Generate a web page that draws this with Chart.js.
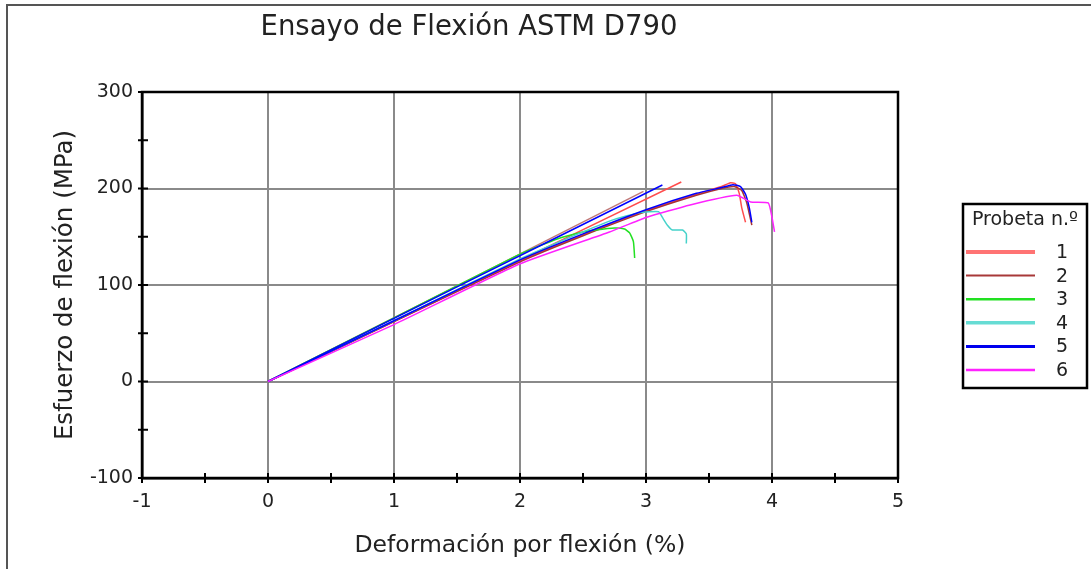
<!DOCTYPE html>
<html>
<head>
<meta charset="utf-8">
<script src="https://cdn.jsdelivr.net/npm/chart.js@4/dist/chart.umd.min.js"></script>
<style>
  html, body { margin: 0; padding: 0; background: #fff; }
  #wrap { position: relative; width: 1091px; height: 569px; }
</style>
</head>
<body>
<div id="wrap"><canvas id="flexChart" width="1091" height="569"></canvas></div>
<script>
// Tick values of both axes
const xTicks = [-1, 0, 1, 2, 3, 4, 5];
const yTicks = [-100, 0, 100, 200, 300];

// Specimen names for the legend
const probetas = ['1', '2', '3', '4', '5', '6'];

// Strain (%) / stress (MPa) of each specimen
const def1 = [0, 1, 2, 2.5, 3, 3.4, 3.6, 3.67, 3.71, 3.74, 3.76, 3.79];
const esf1 = [0, 62, 125, 152, 177, 194, 202, 206, 205, 195, 180, 165];
const def1b = [0, 1.5, 3.28];
const esf1b = [0, 94, 206.7];

const def2 = [0, 1, 2, 2.5, 3, 3.4, 3.6, 3.7, 3.76, 3.8, 3.84];
const esf2 = [0, 62, 124, 151, 176, 193, 200, 202, 198, 185, 162];
const def2b = [0, 1.5, 2.98];
const esf2b = [0, 99, 197];

const def3 = [0, 1, 2, 2.3, 2.5, 2.6, 2.75, 2.83, 2.87, 2.9, 2.91];
const esf3 = [0, 66, 132, 148, 155, 157, 159, 158, 154, 145, 128];

const def4 = [0, 1, 2, 2.5, 2.75, 2.95, 3.1, 3.13, 3.17, 3.21, 3.29, 3.32, 3.32];
const esf4 = [0, 63, 127, 155, 168, 175, 176, 170, 162, 157, 157, 153, 143];

const def5 = [0, 1, 2, 2.5, 3, 3.4, 3.6, 3.69, 3.75, 3.79, 3.82, 3.84];
const esf5 = [0, 63, 126, 153, 178, 195, 201, 204, 202, 194, 180, 165];
const def5b = [0, 1.5, 3.13];
const esf5b = [0, 98, 203.6];

const def6 = [0, 1, 2, 2.71, 3, 3.35, 3.72, 3.83, 3.97, 4.0, 4.02];
const esf6 = [0, 59, 122, 155, 170, 183, 193, 186, 185, 170, 155];

const lineColors = ['#ff4c4c', '#a83232', '#22e022', '#45d2ca', '#0000ff', '#ff22ff'];
const legendColors = ['#ff7373', '#a83838', '#22e022', '#66dcd4', '#0000ee', '#ff22ff'];
const legendWidths = [4, 2, 2.5, 3.5, 3, 2.5];

function pts(xs, ys) {
  return xs.map((x, i) => ({ x: x, y: ys[i] }));
}

function serie(xs, ys, color) {
  return {
    data: pts(xs, ys),
    borderColor: color,
    borderWidth: 1.5,
    pointRadius: 0,
    tension: 0.15,
    fill: false
  };
}

const datasets = [
  serie(def6, esf6, lineColors[5]),
  serie(def5, esf5, lineColors[4]),
  serie(def5b, esf5b, lineColors[4]),
  serie(def4, esf4, lineColors[3]),
  serie(def3, esf3, lineColors[2]),
  serie(def2, esf2, lineColors[1]),
  serie(def2b, esf2b, '#c07878'),
  serie(def1, esf1, lineColors[0]),
  serie(def1b, esf1b, lineColors[0])
];

const FONT = 'DejaVu Sans';

// Page frame, title, minor/major tick marks and the boxed legend
const decorations = {
  id: 'decorations',
  beforeDraw(chart) {
    const ctx = chart.ctx;
    ctx.save();
    ctx.fillStyle = '#fff';
    ctx.fillRect(0, 0, chart.width, chart.height);
    ctx.strokeStyle = '#555';
    ctx.lineWidth = 2;
    ctx.beginPath();
    ctx.moveTo(7, 569);
    ctx.lineTo(7, 5);
    ctx.lineTo(1091, 5);
    ctx.stroke();
    ctx.restore();
  },
  afterDraw(chart) {
    const ctx = chart.ctx;
    const xs = chart.scales.x, ys = chart.scales.y;
    const area = chart.chartArea;
    ctx.save();

    // title
    ctx.fillStyle = '#222';
    ctx.font = '27.5px ' + FONT;
    ctx.textAlign = 'center';
    ctx.textBaseline = 'middle';
    ctx.fillText('Ensayo de Flexión ASTM D790', 469, 28);

    // black frame on top of the grid
    ctx.strokeStyle = '#000';
    ctx.lineWidth = 2.5;
    ctx.strokeRect(area.left, area.top, area.right - area.left, area.bottom - area.top);

    // tick marks across the axes, every half step
    ctx.lineWidth = 2;
    for (let v = xs.min; v <= xs.max; v += 0.5) {
      const px = xs.getPixelForValue(v);
      ctx.beginPath();
      ctx.moveTo(px, area.bottom - 5);
      ctx.lineTo(px, area.bottom + 5);
      ctx.stroke();
    }
    for (let v = ys.min; v <= ys.max; v += 50) {
      const py = ys.getPixelForValue(v);
      ctx.beginPath();
      ctx.moveTo(area.left - 4, py);
      ctx.lineTo(area.left + 6, py);
      ctx.stroke();
    }

    // legend
    const bx = 963, by = 204, bw = 124, bh = 184;
    ctx.lineWidth = 2.5;
    ctx.strokeStyle = '#000';
    ctx.strokeRect(bx, by, bw, bh);
    ctx.fillStyle = '#222';
    ctx.font = '19px ' + FONT;
    ctx.textAlign = 'center';
    ctx.fillText('Probeta n.º', bx + bw / 2, by + 16);
    probetas.forEach((name, i) => {
      const y = by + 48 + i * 23.6;
      ctx.strokeStyle = legendColors[i];
      ctx.lineWidth = legendWidths[i];
      ctx.beginPath();
      ctx.moveTo(966, y);
      ctx.lineTo(1035, y);
      ctx.stroke();
      ctx.fillText(name, 1062, y + 1);
    });
    ctx.restore();
  }
};

function frameColor(c) {
  const s = c.scale;
  return (c.tick && (c.tick.value === s.min || c.tick.value === s.max)) ? '#000' : '#8a8a8a';
}

new Chart(document.getElementById('flexChart'), {
  type: 'line',
  data: { datasets: datasets },
  plugins: [decorations],
  options: {
    responsive: false,
    animation: false,
    layout: { padding: { left: 0, top: 92, right: 193, bottom: 0 } },
    plugins: {
      legend: { display: false },
      tooltip: { enabled: false }
    },
    scales: {
      x: {
        type: 'linear',
        min: -1,
        max: 5,
        afterBuildTicks: (s) => { s.ticks = xTicks.map(v => ({ value: v })); },
        afterFit: (s) => { s.height = 91; },
        grid: { color: frameColor, lineWidth: 2, drawTicks: false },
        border: { display: true, color: '#000', width: 2.5 },
        ticks: { color: '#222', padding: 13, font: { family: FONT, size: 19 } },
        title: {
          display: true,
          text: 'Deformación por flexión (%)',
          color: '#222',
          font: { family: FONT, size: 23.5 },
          padding: { top: 0, bottom: 9 }
        }
      },
      y: {
        type: 'linear',
        min: -100,
        max: 300,
        afterBuildTicks: (s) => { s.ticks = yTicks.map(v => ({ value: v })); },
        afterFit: (s) => { s.width = 142; },
        grid: { color: frameColor, lineWidth: 2, drawTicks: false },
        border: { display: true, color: '#000', width: 2.5 },
        ticks: { color: '#222', padding: 9, font: { family: FONT, size: 19 } },
        title: {
          display: true,
          text: 'Esfuerzo de flexión (MPa)',
          color: '#222',
          font: { family: FONT, size: 24.5 },
          padding: { top: 51, bottom: 0 }
        }
      }
    }
  }
});
</script>
</body>
</html>
